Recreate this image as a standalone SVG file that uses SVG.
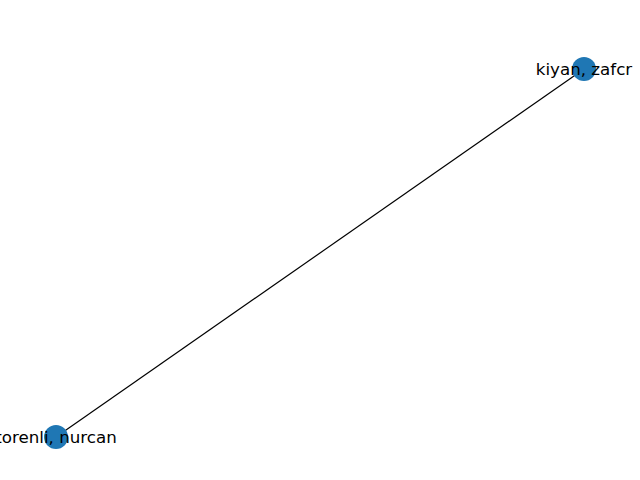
<svg xmlns="http://www.w3.org/2000/svg" width="640" height="480" viewBox="0 0 640 480">
<style>
.node{fill:#1f77b4;}
.lbl{font-family:"DejaVu Sans",sans-serif;font-size:16.7px;fill:#000;text-anchor:middle;dominant-baseline:central;}
.edge{stroke:#000;stroke-width:1.2;fill:none;}
</style>
<rect width="640" height="480" fill="#fff"/>
<g id="edges">
<line class="edge" x1="584" y1="69" x2="56" y2="437"/>
</g>
<g id="node-kiyan">
<circle class="node" cx="584" cy="69" r="12"/>
<text class="lbl" x="584" y="69">kiyan, zafcr</text>
</g>
<g id="node-torenli">
<circle class="node" cx="56" cy="437" r="12"/>
<text class="lbl" x="56" y="437">torenli, nurcan</text>
</g>
</svg>
